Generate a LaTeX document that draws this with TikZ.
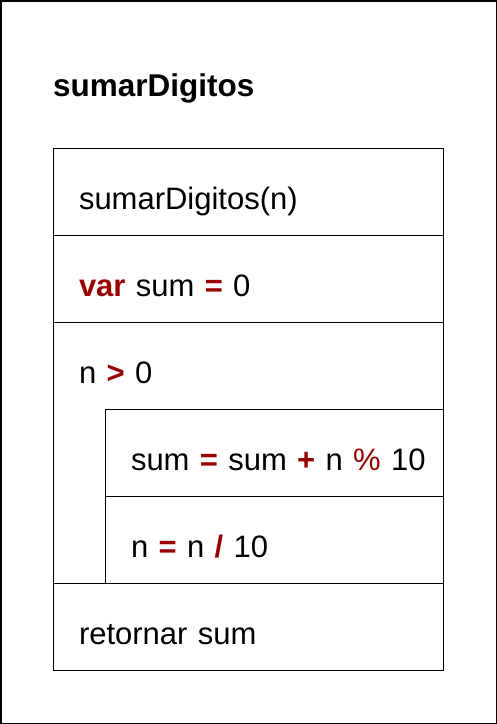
\documentclass[tikz,border=0pt]{standalone}
\usepackage{fontspec}
\setmainfont{Liberation Sans}
\usetikzlibrary{positioning}
\definecolor{kwred}{RGB}{153,0,0}
\newcommand{\kw}[1]{\textcolor{kwred}{\textbf{#1}}}

\begin{document}
\begin{tikzpicture}[x=1pt, y=-1pt,
  block/.style={draw, line width=1pt, rectangle, anchor=north west,
    minimum width=390pt, minimum height=87pt, inner xsep=0pt, inner ysep=0pt,
    outer sep=0pt, text width=390pt, align=left, text height=35pt,
    text depth=0pt, font=\fontsize{31}{36}\selectfont,
    execute at begin node=\hspace*{26pt}},
  inblock/.style={block, minimum width=338pt, text width=338pt}]
  \useasboundingbox (0,0) rectangle (497,724);
  \draw[line width=1.5pt] (0.75,0.75) rectangle (496.25,723.25);
  \node[anchor=base west, inner sep=0pt, font=\fontsize{31.5}{36}\selectfont\bfseries]
    (title) at (53,96) {sumarDigitos};
  \node[block] (head) at (53,148) {sumarDigitos(n)};
  \node[block, below=0pt of head] (init) {\kw{var} sum \kw{=} 0};
  \node[block, below=0pt of init, minimum height=261pt] (loop) {};
  \node[block, draw=none, anchor=north west] (cond) at (loop.north west)
    {n \kw{>} 0};
  \node[inblock, below left=87pt and 0pt of loop.north east] (body1)
    {sum \kw{=} sum \kw{+} n \textcolor{kwred}{\%} 10};
  \node[inblock, below=0pt of body1] (body2) {n \kw{=} n \kw{/} 10};
  \node[block, below=0pt of loop] (ret) {retornar sum};
\end{tikzpicture}
\end{document}
